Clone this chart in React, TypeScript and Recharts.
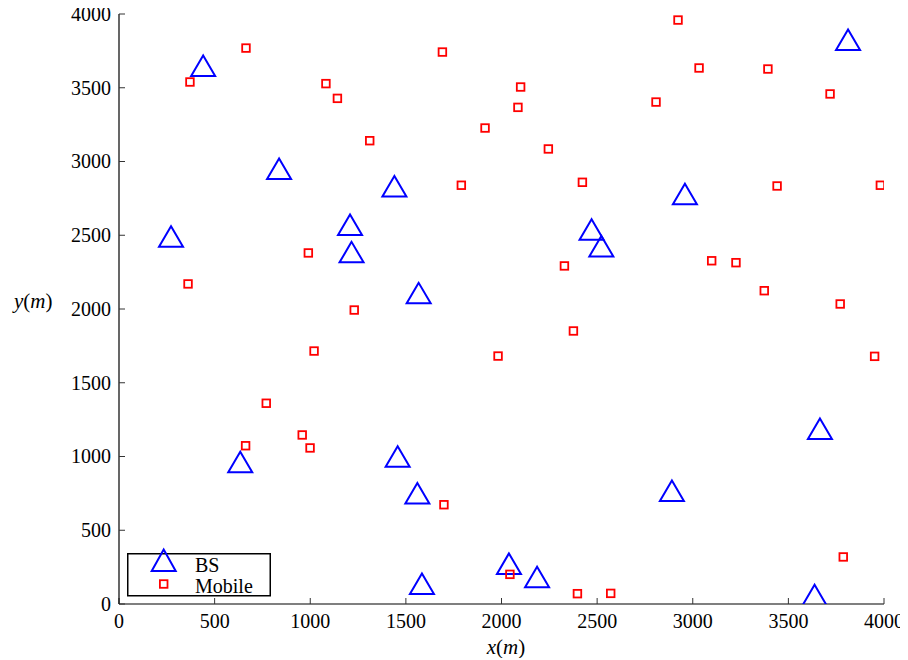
import React from "react";
import { ScatterChart, Scatter, XAxis, YAxis, Legend } from "recharts";

const bsX = [440, 837, 272, 3812, 1440, 1208, 1216, 1567, 2471, 2522, 2959, 634, 1457, 1560, 1584, 2039, 2186, 2891, 3665, 3637];
const bsY = [3647, 2949, 2490, 3824, 2830, 2569, 2384, 2106, 2537, 2424, 2778, 961, 999, 749, 136, 272, 181, 766, 1186, 59];

const mobileX = [371, 664, 1082, 1142, 1311, 1691, 1790, 1914, 2100, 2086, 2245, 2423, 2329, 2376, 1982, 2923, 3033, 2808, 3393, 3718, 3441, 3099, 3226, 3374, 3771, 3981, 3951, 3787, 2571, 2397, 2044, 1699, 990, 1230, 1020, 361, 770, 662, 958, 999];
const mobileY = [3539, 3769, 3528, 3428, 3141, 3742, 2839, 3227, 3505, 3367, 3085, 2859, 2292, 1851, 1681, 3959, 3634, 3403, 3627, 3458, 2834, 2327, 2314, 2124, 2034, 2839, 1679, 319, 72, 70, 201, 673, 2380, 1993, 1715, 2170, 1361, 1073, 1146, 1058];

const ticks = [0, 500, 1000, 1500, 2000, 2500, 3000, 3500, 4000];
const seriesNames = ["BS", "Mobile"];

const bsData = bsX.map((x, i) => ({ x, y: bsY[i] }));
const mobileData = mobileX.map((x, i) => ({ x, y: mobileY[i] }));

const FONT = "'Liberation Serif', 'Times New Roman', Times, serif";
const BLUE = "#0000ff";
const RED = "#ff0000";

const Triangle = (props: any) => {
  const { cx, cy } = props;
  if (cx == null || cy == null) return null;
  return (
    <path
      d={`M${cx},${cy - 10.5} L${cx - 12},${cy + 10} L${cx + 12},${cy + 10} Z`}
      fill="none"
      stroke={BLUE}
      strokeWidth={2}
    />
  );
};

const Square = (props: any) => {
  const { cx, cy } = props;
  if (cx == null || cy == null) return null;
  return (
    <rect x={cx - 3.8} y={cy - 3.8} width={7.6} height={7.6} fill="none" stroke={RED} strokeWidth={1.8} />
  );
};

const BottomTick = (props: any) => {
  const { x, y, payload } = props;
  return (
    <text x={x} y={y} dy="0.71em" textAnchor="middle" style={{ fontFamily: FONT, fontSize: 20 }} fill="#000">
      {payload.value}
    </text>
  );
};

const LeftTick = (props: any) => {
  const { x, y, payload } = props;
  return (
    <text x={x} y={y} dy="0.34em" textAnchor="end" style={{ fontFamily: FONT, fontSize: 20 }} fill="#000">
      {payload.value}
    </text>
  );
};

const LegendBox = () => (
  <svg width={145} height={45} style={{ overflow: "visible", display: "block" }}>
    <rect x={0.75} y={0.75} width={142.5} height={42} fill="#fff" stroke="#000" strokeWidth={1.5} />
    <path d="M36.7,-3.5 L24.7,18 L48.7,18 Z" fill="none" stroke={BLUE} strokeWidth={2} />
    <rect x={32.9} y={27.2} width={7.6} height={7.6} fill="none" stroke={RED} strokeWidth={1.8} />
    <text x={68} y={19} style={{ fontFamily: FONT, fontSize: 20 }} fill="#000">{seriesNames[0]}</text>
    <text x={68} y={39.5} style={{ fontFamily: FONT, fontSize: 20 }} fill="#000">{seriesNames[1]}</text>
  </svg>
);

const XLabel = () => (
  <text x={498} y={654} textAnchor="middle" style={{ fontFamily: FONT, fontSize: 21 }} fill="#000">
    <tspan fontStyle="italic">x</tspan>(<tspan fontStyle="italic">m</tspan>)
  </text>
);

const YLabel = () => (
  <text x={6} y={308} textAnchor="start" style={{ fontFamily: FONT, fontSize: 21 }} fill="#000">
    <tspan fontStyle="italic">y</tspan>(<tspan fontStyle="italic">m</tspan>)
  </text>
);

export default function App() {
  return (
    <div style={{ width: 900, height: 658, marginTop: -8, fontFamily: FONT }}>
      <ScatterChart width={900} height={658} margin={{ top: 14, right: 24, bottom: 0, left: 0 }}>
        <XAxis
          xAxisId="b"
          type="number"
          dataKey="x"
          orientation="bottom"
          domain={[0, 4000]}
          ticks={ticks}
          interval={0}
          height={54}
          tickSize={-6}
          tickMargin={16}
          tick={<BottomTick />}
          axisLine={{ stroke: "#000", strokeWidth: 1.2 }}
          tickLine={{ stroke: "#333", strokeWidth: 1 }}
          label={<XLabel />}
          allowDataOverflow
        />
        <XAxis
          xAxisId="t"
          type="number"
          dataKey="x"
          orientation="top"
          domain={[0, 4000]}
          ticks={ticks}
          interval={0}
          height={0}
          tickSize={-6}
          tick={false}
          axisLine={{ stroke: "#000", strokeWidth: 1.2 }}
          tickLine={{ stroke: "#333", strokeWidth: 1 }}
          allowDataOverflow
        />
        <YAxis
          yAxisId="l"
          type="number"
          dataKey="y"
          orientation="left"
          domain={[0, 4000]}
          ticks={ticks}
          interval={0}
          width={111}
          tickSize={-6}
          tickMargin={14}
          tick={<LeftTick />}
          axisLine={{ stroke: "#000", strokeWidth: 1.2 }}
          tickLine={{ stroke: "#333", strokeWidth: 1 }}
          label={<YLabel />}
          allowDataOverflow
        />
        <YAxis
          yAxisId="r"
          type="number"
          dataKey="y"
          orientation="right"
          domain={[0, 4000]}
          ticks={ticks}
          interval={0}
          width={0}
          tickSize={-6}
          tick={false}
          axisLine={{ stroke: "#000", strokeWidth: 1.2 }}
          tickLine={{ stroke: "#333", strokeWidth: 1 }}
          allowDataOverflow
        />
        <Scatter
          name={seriesNames[0]}
          data={bsData}
          xAxisId="b"
          yAxisId="l"
          shape={<Triangle />}
          isAnimationActive={false}
        />
        <Scatter
          name={seriesNames[1]}
          data={mobileData}
          xAxisId="b"
          yAxisId="l"
          shape={<Square />}
          isAnimationActive={false}
        />
        <Legend
          layout="vertical"
          align="center"
          verticalAlign="middle"
          content={() => <LegendBox />}
          wrapperStyle={{ left: 119, top: 553, width: 145, height: 45 }}
        />
      </ScatterChart>
    </div>
  );
}
